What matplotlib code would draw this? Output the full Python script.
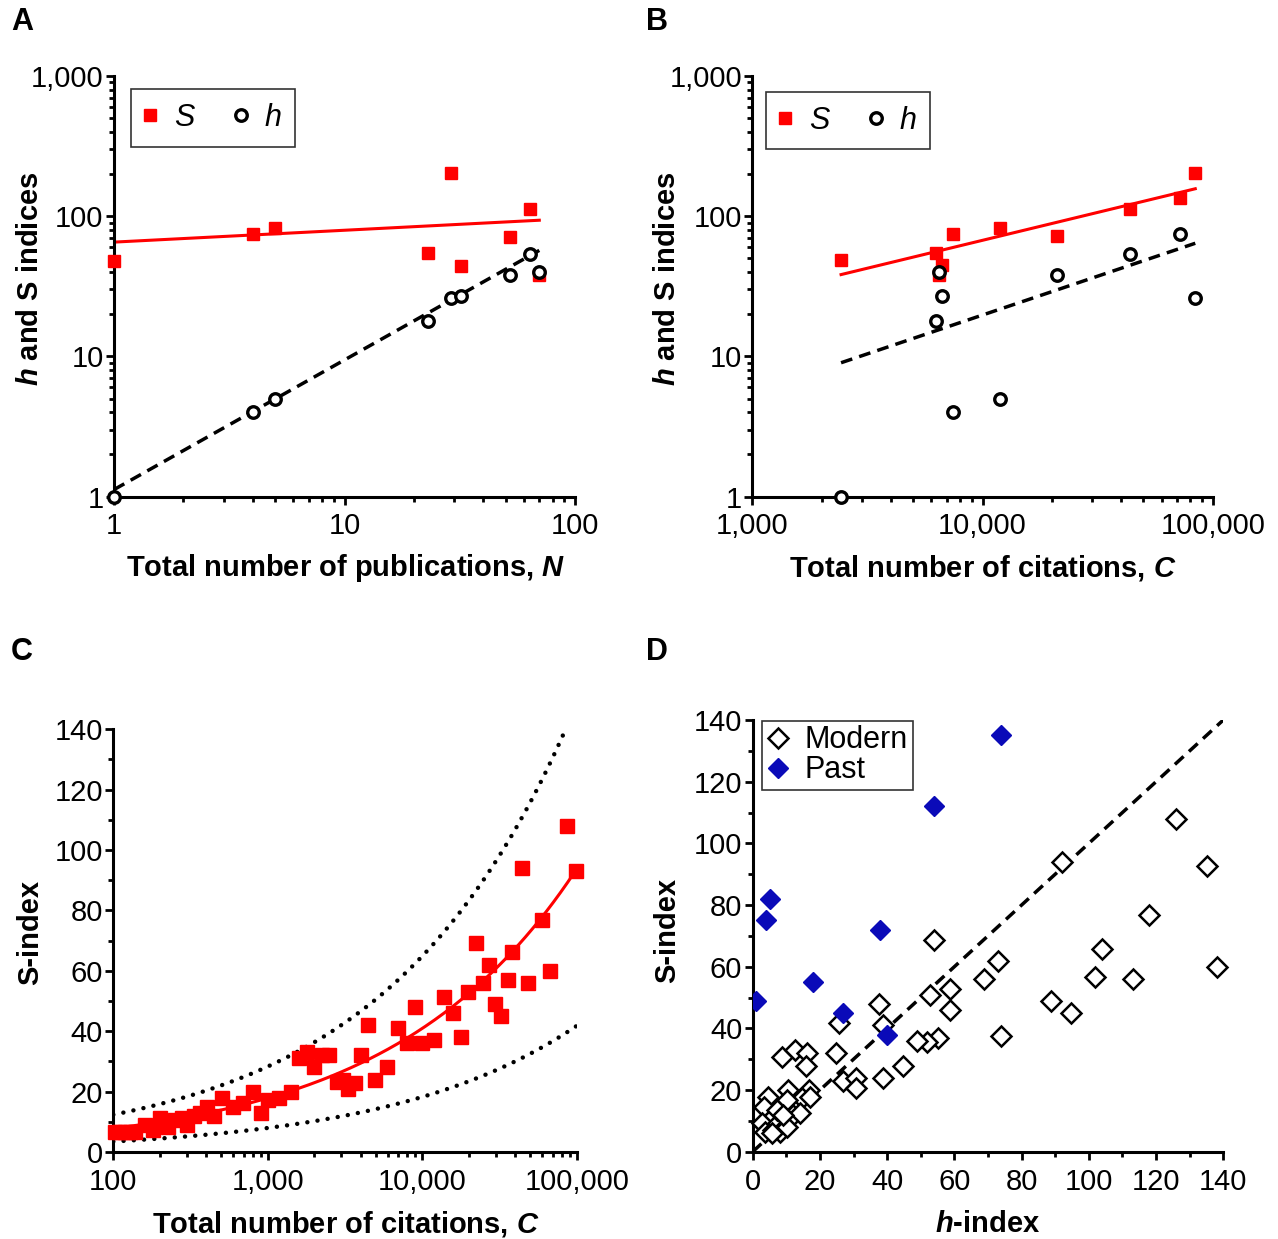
import numpy as np
import matplotlib
matplotlib.use("Agg")
import matplotlib.pyplot as plt
from matplotlib.ticker import FixedLocator, FixedFormatter, NullFormatter
from matplotlib.lines import Line2D

plt.rcParams['font.family'] = ['Liberation Sans', 'DejaVu Sans']
plt.rcParams['mathtext.fontset'] = 'custom'
plt.rcParams['mathtext.it'] = 'Liberation Sans:italic:bold'
plt.rcParams['mathtext.rm'] = 'Liberation Sans:bold'
plt.rcParams['mathtext.bf'] = 'Liberation Sans:bold'

RED = '#FF0000'
BLUE = '#0A0AB8'

# ---------------- data ----------------
# Panel A: past scientists vs total publications N
N_pub = [1, 4, 5, 23, 29, 32, 52, 64, 70]
S_A = [48, 75, 82, 55, 204, 44, 71, 112, 38]
h_A = [1, 4, 5, 18, 26, 27, 38, 54, 40]
fitA_S = [65.3, 0.0846]      # S = a * N^b
fitA_h = [1.12, 0.925]       # h = a * N^b

# Panel B: past scientists vs total citations C
C_tot = [2430, 7470, 11900, 6280, 84000, 6700, 21000, 43600, 6470, 72100]
S_B = [49, 75, 82, 55, 204, 45, 72, 112, 38, 135]
h_B = [1, 4, 5, 18, 26, 27, 38, 54, 40, 74]
fitB_S = [38.3, 0.398, 2430]  # S = a * (C/C0)^b
fitB_h = [9.0, 0.554, 2430]

# Panel C: modern scientists, S-index vs C
C_mod = [102, 110, 119, 128, 138, 160, 180, 200, 227, 251, 277, 298, 334, 364,
         402, 448, 503, 598, 694, 797, 899, 1008, 1186, 1406, 1592, 1784, 2000,
         2230, 2500, 2790, 3050, 3320, 3665, 3990, 4470, 4940, 5930, 6920, 7920,
         8970, 9910, 11970, 13810, 15860, 17790, 19850, 22250, 24560, 26990,
         29510, 32280, 36030, 38220, 43950, 48550, 59200, 66990, 85900, 98900]
S_mod_C = [6.7, 6.7, 6.7, 6.7, 6.7, 8.9, 7.3, 11.1, 8.4, 10.6, 11.1, 8.9, 11.9, 12.8,
           15, 11.9, 18, 15, 16.1, 20, 13, 17.2, 18, 20, 31, 33, 28,
           32.1, 32.1, 23.3, 23.8, 21, 23, 32.1, 42, 23.8, 28, 41, 36,
           48.1, 36, 37.1, 51.2, 45.9, 38, 53.1, 69.1, 56.1, 61.9,
           49, 45, 57, 66.1, 94.2, 56.1, 77, 60, 108, 93.2]
fitC = [1.486, 0.36]          # S = a * C^b
bandC = [2.355, 0.662]        # upper / lower prefactors of dotted curves

# Panel D: S-index vs h-index
h_modern = [53.8, 92, 126, 135.1, 118, 103.9, 101.9, 113, 138.1, 88.7, 94.7, 73.9,
            72.9, 68.8, 58.7, 58.7, 52.8, 55.1, 51.8, 48.8, 44.6, 38.7, 37.7, 38.7,
            25.8, 24.8, 26.8, 30.8, 30.8, 8.6, 12.6, 16.1, 15.8, 4.6, 3.4, 10.6,
            16.8, 14.6, 10.1, 6.1, 11.9, 14.1, 17.1, 2.7, 3.7, 6.1, 7.6, 7.1, 8.1,
            10.1, 5.7, 9.1]
S_modern = [68.6, 94.1, 107.8, 92.8, 76.8, 65.7, 56.8, 55.9, 59.8, 48.9, 44.9, 37.6,
            61.9, 55.9, 52.9, 45.9, 50.8, 36.8, 35.5, 35.9, 27.8, 23.8, 47.9, 41.1,
            41.6, 31.9, 22.9, 23.8, 20.5, 30.8, 33, 31.9, 27.8, 17.8, 14.6, 20,
            20, 17.3, 16.8, 11.4, 11.9, 12.5, 17.8, 9.2, 6.5, 7.0, 9.2, 13.5, 6.5,
            8.1, 6.0, 11.9]
h_past = h_B
S_past = S_B

# ---------------- figure ----------------
W, H = 1278, 1239
fig = plt.figure(figsize=(W / 100, H / 100), dpi=100)


def axpix(l, r, t, b):
    return fig.add_axes([l / W, 1 - b / H, (r - l) / W, (b - t) / H])


axA = axpix(114, 575, 76, 496.5)
axB = axpix(752.3, 1212.7, 76, 496.5)
axC = axpix(113.3, 576.7, 729.3, 1152)
axD = axpix(752.7, 1223.3, 720, 1151.7)

TICK_FS = 21


def style(ax):
    for s in ['top', 'right']:
        ax.spines[s].set_visible(False)
    for s in ['left', 'bottom']:
        ax.spines[s].set_linewidth(2.2)
        ax.spines[s].set_capstyle('projecting')
    ax.tick_params(which='major', direction='out', length=5.5, width=2.0,
                   labelsize=TICK_FS, pad=2)
    ax.tick_params(which='minor', direction='out', length=3.5, width=2.0)
    ax.tick_params(axis='x', which='major', pad=6)


def log_minor(lo_dec, hi_dec):
    return [m * 10 ** d for d in range(lo_dec, hi_dec) for m in range(2, 10)]


sq_kw = dict(marker='s', ms=8.8, color=RED, linestyle='none', clip_on=False, zorder=3)
ci_kw = dict(marker='o', ms=8.3, mfc='white', mec='black', mew=2.4,
             linestyle='none', clip_on=False, zorder=4)
dash_kw = dict(color='black', lw=2.5, dashes=(3.4, 2.1), zorder=2)

# ---------- Panel A ----------
ax = axA
style(ax)
ax.set_xscale('log')
ax.set_yscale('log')
ax.set_xlim(1, 100)
ax.set_ylim(1, 1000)
nx = np.logspace(np.log10(min(N_pub)), np.log10(max(N_pub)), 100)
ax.plot(nx, fitA_S[0] * nx ** fitA_S[1], color=RED, lw=2.2, zorder=2)
ax.plot(nx, fitA_h[0] * nx ** fitA_h[1], **dash_kw)
ax.plot(N_pub, S_A, **sq_kw)
ax.plot(N_pub, h_A, **ci_kw)

# ---------- Panel B ----------
ax = axB
style(ax)
ax.set_xscale('log')
ax.set_yscale('log')
ax.set_xlim(1000, 100000)
ax.set_ylim(1, 1000)
cx = np.logspace(np.log10(min(C_tot)), np.log10(max(C_tot)), 100)
ax.plot(cx, fitB_S[0] * (cx / fitB_S[2]) ** fitB_S[1], color=RED, lw=2.2, zorder=2)
ax.plot(cx, fitB_h[0] * (cx / fitB_h[2]) ** fitB_h[1], **dash_kw)
ax.plot(C_tot, S_B, **sq_kw)
ax.plot(C_tot, h_B, **ci_kw)

for ax, xt, xl, anchor in [(axA, [1, 10, 100], ['1', '10', '100'], (0.037, 0.969)),
                           (axB, [1000, 10000, 100000], ['1,000', '10,000', '100,000'],
                            (0.0298, 0.962))]:
    ax.xaxis.set_major_locator(FixedLocator(xt))
    ax.xaxis.set_major_formatter(FixedFormatter(xl))
    d0 = int(round(np.log10(xt[0])))
    ax.xaxis.set_minor_locator(FixedLocator(log_minor(d0, d0 + 2)))
    ax.xaxis.set_minor_formatter(NullFormatter())
    ax.yaxis.set_major_locator(FixedLocator([1, 10, 100, 1000]))
    ax.yaxis.set_major_formatter(FixedFormatter(['1', '10', '100', '1,000']))
    ax.yaxis.set_minor_locator(FixedLocator(log_minor(0, 3)))
    ax.yaxis.set_minor_formatter(NullFormatter())
    h1 = Line2D([], [], marker='s', ms=8.8, color=RED, linestyle='none')
    h2 = Line2D([], [], marker='o', ms=8.3, mfc='white', mec='black', mew=2.4,
                linestyle='none')
    leg = ax.legend([h1, h2], ['S', 'h'], ncol=2, loc='upper left',
                    bbox_to_anchor=anchor, borderaxespad=0,
                    prop={'size': 22, 'style': 'italic'}, frameon=True,
                    fancybox=False, edgecolor='black', handlelength=0.35,
                    handletextpad=0.6, columnspacing=1.35, borderpad=0.45)
    leg.get_frame().set_linewidth(1.2)

# ---------- Panel C ----------
ax = axC
style(ax)
ax.set_xscale('log')
ax.set_xlim(100, 100000)
ax.set_ylim(0, 140)
cc = np.logspace(2, 5, 200)
dot_kw = dict(color='black', lw=3.2, dashes=(0.01, 2.3), dash_capstyle='round', zorder=2)
ax.plot(cc, bandC[0] * cc ** fitC[1], **dot_kw)
ax.plot(cc, bandC[1] * cc ** fitC[1], **dot_kw)
ax.plot(C_mod, S_mod_C, marker='s', ms=9.6, color=RED, linestyle='none',
        clip_on=False, zorder=3)
ax.plot(cc, fitC[0] * cc ** fitC[1], color=RED, lw=2.2, zorder=4)
ax.xaxis.set_major_locator(FixedLocator([100, 1000, 10000, 100000]))
ax.xaxis.set_major_formatter(FixedFormatter(['100', '1,000', '10,000', '100,000']))
ax.xaxis.set_minor_locator(FixedLocator(log_minor(2, 5)))
ax.xaxis.set_minor_formatter(NullFormatter())
ax.yaxis.set_major_locator(FixedLocator(list(range(0, 141, 20))))
ax.yaxis.set_minor_locator(FixedLocator(list(range(10, 141, 20))))

# ---------- Panel D ----------
ax = axD
style(ax)
ax.set_xlim(0, 140)
ax.set_ylim(0, 140)
ax.plot([0, 140], [0, 140], color='black', lw=2.5, dashes=(3.4, 2.1), zorder=2)
ax.plot(h_modern, S_modern, marker='D', ms=10.5, mfc='white', mec='black', mew=1.8,
        linestyle='none', clip_on=False, zorder=3)
ax.plot(h_past, S_past, marker='D', ms=10.5, color=BLUE, linestyle='none',
        clip_on=True, zorder=4)
for a in (ax.xaxis, ax.yaxis):
    a.set_major_locator(FixedLocator(list(range(0, 141, 20))))
    a.set_minor_locator(FixedLocator(list(range(10, 141, 20))))
hm = Line2D([], [], marker='D', ms=10.5, mfc='white', mec='black', mew=1.8, linestyle='none')
hp = Line2D([], [], marker='D', ms=10.5, color=BLUE, linestyle='none')
leg = ax.legend([hm, hp], ['Modern', 'Past'], loc='upper left',
                bbox_to_anchor=(0.0198, 0.998), borderaxespad=0,
                prop={'size': 22}, frameon=True, fancybox=False, edgecolor='black',
                handlelength=0.75, handletextpad=0.5, borderpad=0.15,
                labelspacing=0.0)
leg.get_frame().set_linewidth(1.2)

# ---------- labels ----------
def ftext(x, y, s, **kw):
    fig.text(x / W, 1 - y / H, s, **kw)

lab = dict(fontsize=21, fontweight='bold', ha='center', va='center')
ftext(346, 568, 'Total number of publications, $N$', **lab)
ftext(983, 568, 'Total number of citations, $C$', **lab)
ftext(346, 1224, 'Total number of citations, $C$', **lab)
ftext(988, 1224, '$h$-index', **lab)
ftext(30, 279, '$h$ and S indices', rotation=90, **lab)
ftext(667, 279, '$h$ and S indices', rotation=90, **lab)
ftext(30, 932, 'S-index', rotation=90, **lab)
ftext(667, 930, 'S-index', rotation=90, **lab)

pl = dict(fontsize=22, fontweight='bold', ha='center', va='center')
ftext(22, 22, 'A', **pl)
ftext(657, 22, 'B', **pl)
ftext(22, 652, 'C', **pl)
ftext(657, 652, 'D', **pl)

fig.savefig('out.png', dpi=100)
